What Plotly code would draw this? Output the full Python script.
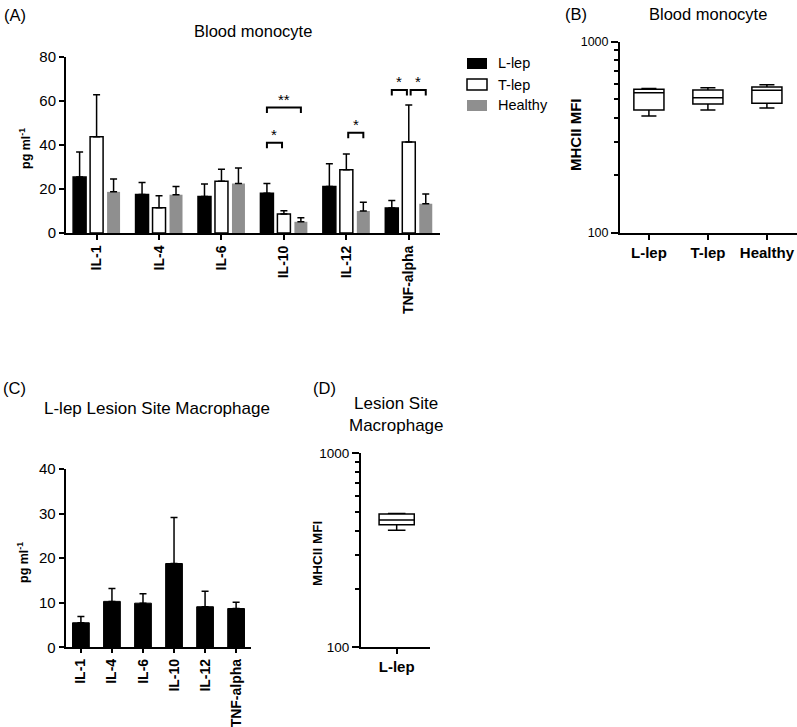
import plotly.graph_objects as go

W, H = 797, 727

# ---------------- data ----------------
categories = ['IL-1', 'IL-4', 'IL-6', 'IL-10', 'IL-12', 'TNF-alpha']
groups = ['L-lep', 'T-lep', 'Healthy']

# Panel A: blood monocyte cytokines (mean, SEM)
llep_mean = [25.4, 17.5, 16.6, 18.1, 21.1, 11.4]
llep_sem = [11.4, 5.4, 5.7, 4.4, 10.4, 3.4]
tlep_mean = [43.8, 11.5, 23.5, 8.6, 28.7, 41.4]
tlep_sem = [19.0, 5.4, 5.5, 1.5, 7.2, 16.8]
healthy_mean = [18.7, 17.4, 22.5, 5.1, 10.0, 13.3]
healthy_sem = [5.8, 3.7, 7.1, 1.8, 4.0, 4.4]

# significance: (cytokine index, group a, group b, bracket height, label)
significance = [
    (3, 0, 1, 41.0, '*'),
    (3, 0, 2, 57.0, '**'),
    (4, 1, 2, 45.6, '*'),
    (5, 0, 1, 65.0, '*'),
    (5, 1, 2, 65.0, '*'),
]

# Panel B: MHCII MFI blood monocyte (box stats)
b_groups = ['L-lep', 'T-lep', 'Healthy']
b_lower = [408, 439, 450]
b_q1 = [439, 472, 476]
b_median = [541, 509, 557]
b_q3 = [564, 559, 580]
b_upper = [568, 574, 596]

# Panel C: L-lep lesion site macrophage cytokines
c_mean = [5.5, 10.3, 9.9, 18.8, 9.1, 8.7]
c_sem = [1.4, 2.9, 2.1, 10.3, 3.5, 1.4]

# Panel D: MHCII MFI lesion site macrophage
d_groups = ['L-lep']
d_lower = [401]
d_q1 = [428]
d_median = [453]
d_q3 = [486]
d_upper = [490]

# ---------------- helpers ----------------
FONT = 'Liberation Sans, Arial, Helvetica, sans-serif'


def fx(p):
    return p / W


def fy(p):
    return 1 - p / H


fig = go.Figure()

# ---------------- Panel A ----------------
grp_off = [-0.272, 0.0, 0.272]
bw = 0.208
styles = [
    dict(color='black', line=dict(color='black', width=1.5)),
    dict(color='white', line=dict(color='black', width=1.5)),
    dict(color='#8f8f8f', line=dict(color='#8f8f8f', width=0)),
]
a_means = [llep_mean, tlep_mean, healthy_mean]
a_sems = [llep_sem, tlep_sem, healthy_sem]
idx = list(range(len(categories)))
for g in range(3):
    fig.add_trace(go.Bar(
        x=idx, y=a_means[g], width=bw, offset=grp_off[g] - bw / 2,
        name=groups[g], marker=styles[g], showlegend=False,
        error_y=dict(type='data', symmetric=False, array=a_sems[g],
                     arrayminus=[0] * len(idx), color='black',
                     thickness=1.5, width=3.5),
        xaxis='x', yaxis='y'))

shapes = []
annotations = []
leg = 2.5
for ci, ga, gb, yv, lab in significance:
    xa = ci + grp_off[ga] + (0.03 if ga == 1 else 0)
    xb = ci + grp_off[gb] - (0.03 if gb == 1 else 0)
    shapes.append(dict(type='path', xref='x', yref='y',
                       path=f'M {xa},{yv - leg} L {xa},{yv} L {xb},{yv} L {xb},{yv - leg}',
                       line=dict(color='black', width=2)))
    annotations.append(dict(x=(xa + xb) / 2, y=yv, xref='x', yref='y',
                            text=lab, showarrow=False, yanchor='bottom',
                            yshift=-2, font=dict(size=15, color='black', family=FONT)))

# legend (manual)
leg_styles = [('black', 'black', 0), ('white', 'black', 1.5), ('#8f8f8f', '#8f8f8f', 0)]
for i, name in enumerate(groups):
    cy = 63.5 + 21 * i
    fc, lc, lw = leg_styles[i]
    shapes.append(dict(type='rect', xref='paper', yref='paper',
                       x0=fx(467), x1=fx(487), y0=fy(cy + 5.5), y1=fy(cy - 5.5),
                       fillcolor=fc, line=dict(color=lc, width=lw)))
    annotations.append(dict(x=fx(496), y=fy(cy), xref='paper', yref='paper',
                            text=name, showarrow=False, xanchor='left', yanchor='middle',
                            font=dict(size=14.5, color='black', family=FONT)))

# ---------------- Panel B ----------------
fig.add_trace(go.Box(
    x=list(range(len(b_groups))), q1=b_q1, median=b_median, q3=b_q3,
    lowerfence=b_lower, upperfence=b_upper, width=0.51, whiskerwidth=0.5,
    fillcolor='white', line=dict(color='black', width=1.5), boxpoints=False,
    showlegend=False, xaxis='x2', yaxis='y2'))

# ---------------- Panel C ----------------
fig.add_trace(go.Bar(
    x=idx, y=c_mean, width=0.54, marker=dict(color='black', line=dict(color='black', width=1)),
    error_y=dict(type='data', symmetric=False, array=c_sem, arrayminus=[0] * len(idx),
                 color='black', thickness=1.5, width=3.5),
    showlegend=False, xaxis='x3', yaxis='y3'))

# ---------------- Panel D ----------------
fig.add_trace(go.Box(
    x=list(range(len(d_groups))), q1=d_q1, median=d_median, q3=d_q3,
    lowerfence=d_lower, upperfence=d_upper, width=0.51, whiskerwidth=0.5,
    fillcolor='white', line=dict(color='black', width=1.5), boxpoints=False,
    showlegend=False, xaxis='x4', yaxis='y4'))

# ---------------- axes ----------------
axis_common = dict(showline=True, linecolor='black', linewidth=2, ticks='outside',
                   tickcolor='black', tickwidth=2, showgrid=False, zeroline=False,
                   automargin=False)
bold_tick = lambda s: dict(size=s, color='black', family=FONT, weight='bold')
norm_tick = lambda s: dict(size=s, color='black', family=FONT)
minor_vals = [200, 300, 400, 500, 600, 700, 800, 900]

fig.update_layout(
    template='none',
    width=W, height=H, margin=dict(l=0, r=0, t=0, b=0, pad=0), autosize=False,
    paper_bgcolor='white', plot_bgcolor='white', barmode='overlay',
    font=dict(family=FONT, color='black'), hovermode=False,
    xaxis=dict(domain=[fx(66), fx(440)], anchor='y', range=[-0.49, 5.5],
               tickmode='array', tickvals=idx, ticktext=categories, tickangle=-90,
               ticklen=5, tickfont=bold_tick(14), **axis_common),
    yaxis=dict(domain=[fy(233), fy(57)], anchor='x', range=[0, 80],
               tickvals=[0, 20, 40, 60, 80], ticklen=5, tickfont=norm_tick(15), **axis_common),
    xaxis2=dict(domain=[fx(620), fx(797)], anchor='y2', range=[-0.49, 2.51],
                tickmode='array', tickvals=list(range(len(b_groups))), ticktext=b_groups,
                ticklen=5, tickfont=bold_tick(15), **axis_common),
    yaxis2=dict(domain=[fy(232.7), fy(41.7)], anchor='x2', type='log', range=[2, 3],
                tickvals=[100, 1000], ticktext=['100', '1000'], ticklen=7,
                tickfont=norm_tick(12.5),
                minor=dict(tickvals=minor_vals, ticks='outside', ticklen=4,
                           tickwidth=2, tickcolor='black', showgrid=False),
                **axis_common),
    xaxis3=dict(domain=[fx(65.7), fx(250.7)], anchor='y3', range=[-0.49, 5.47],
                tickmode='array', tickvals=idx, ticktext=categories, tickangle=-90,
                ticklen=4, tickfont=bold_tick(14), **axis_common),
    yaxis3=dict(domain=[fy(647.3), fy(469)], anchor='x3', range=[0, 40],
                tickvals=[0, 10, 20, 30, 40], ticklen=5, tickfont=norm_tick(15), **axis_common),
    xaxis4=dict(domain=[fx(361), fx(430)], anchor='y4', range=[-0.517, 0.483],
                tickmode='array', tickvals=list(range(len(d_groups))), ticktext=d_groups,
                ticklen=5, tickfont=bold_tick(15), **axis_common),
    yaxis4=dict(domain=[fy(647.3), fy(453.3)], anchor='x4', type='log', range=[2, 3],
                tickvals=[100, 1000], ticktext=['100', '1000'], ticklen=7,
                tickfont=norm_tick(13.5),
                minor=dict(tickvals=minor_vals, ticks='outside', ticklen=4,
                           tickwidth=2, tickcolor='black', showgrid=False),
                **axis_common),
)


def txt(x, y, text, size, bold=False, angle=0, xanchor='center'):
    f = dict(size=size, color='black', family=FONT)
    if bold:
        f['weight'] = 'bold'
    annotations.append(dict(x=fx(x), y=fy(y), xref='paper', yref='paper', text=text,
                            showarrow=False, xanchor=xanchor, yanchor='middle',
                            textangle=angle, font=f))


# panel labels and titles
txt(2, 15, '(A)', 16.5, xanchor='left')
txt(253, 31, 'Blood monocyte', 16.5)
txt(563, 14, '(B)', 16.5, xanchor='left')
txt(708, 14, 'Blood monocyte', 16.5)
txt(1, 388, '(C)', 16.5, xanchor='left')
txt(157, 408, 'L-lep Lesion Site Macrophage', 17)
txt(311, 388, '(D)', 16.5, xanchor='left')
txt(396, 403.5, 'Lesion Site', 17)
txt(396, 425, 'Macrophage', 17)

# y-axis titles
txt(25, 149, 'pg ml<sup>-1</sup>', 12.5, bold=True, angle=-90)
txt(23, 563, 'pg ml<sup>-1</sup>', 12.5, bold=True, angle=-90)
txt(575, 135, 'MHCII MFI', 15, bold=True, angle=-90)
txt(317, 554, 'MHCII MFI', 13.5, bold=True, angle=-90)

fig.update_layout(shapes=shapes, annotations=annotations)
fig.write_html('out.html', config={'displayModeBar': False},
               post_script="document.body.style.margin='0';document.body.style.padding='0';")
